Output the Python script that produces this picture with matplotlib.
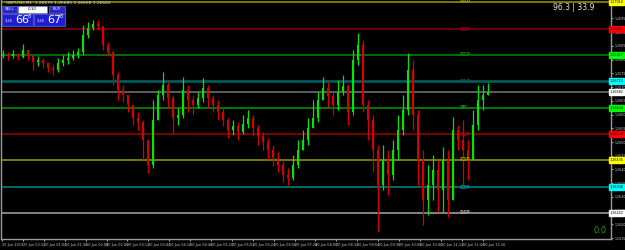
import numpy as np
import matplotlib
matplotlib.use("Agg")
import matplotlib.pyplot as plt
from matplotlib.patches import Rectangle
import matplotlib.transforms as mtransforms

# GBPUSD candles
closes = [1.26817, 1.26813, 1.26820, 1.26810, 1.26835, 1.26813, 1.26791, 1.26799, 1.26788, 1.26769,
          1.26762, 1.26788, 1.26799, 1.26806, 1.26817, 1.26828, 1.26890, 1.26915, 1.26930, 1.26922,
          1.26853, 1.26828, 1.26744, 1.26689, 1.26671, 1.26635, 1.26588, 1.26573, 1.26507, 1.26416,
          1.26580, 1.26671, 1.26708, 1.26660, 1.26588, 1.26598, 1.26689, 1.26653, 1.26635, 1.26660,
          1.26697, 1.26660, 1.26635, 1.26609, 1.26580, 1.26544, 1.26558, 1.26537, 1.26566, 1.26588,
          1.26551, 1.26522, 1.26500, 1.26471, 1.26442, 1.26416, 1.26380, 1.26369, 1.26416, 1.26471,
          1.26507, 1.26551, 1.26588, 1.26653, 1.26697, 1.26668, 1.26635, 1.26682, 1.26704, 1.26609,
          1.26799, 1.26853, 1.26635, 1.26580, 1.26471, 1.26344, 1.26435, 1.26380, 1.26471, 1.26544,
          1.26617, 1.26762, 1.26598, 1.26435, 1.26289, 1.26344, 1.26398, 1.26325, 1.26435, 1.26289,
          1.26544, 1.26507, 1.26471, 1.26435, 1.26562, 1.26653, 1.26671, 1.26682]
highs = [1.26835, 1.26828, 1.26835, 1.26824, 1.26857, 1.26835, 1.26817, 1.26813, 1.26806, 1.26791,
         1.26784, 1.26806, 1.26817, 1.26828, 1.26835, 1.26842, 1.26926, 1.26937, 1.26944, 1.26944,
         1.26922, 1.26864, 1.26835, 1.26755, 1.26708, 1.26671, 1.26635, 1.26609, 1.26580, 1.26507,
         1.26653, 1.26689, 1.26755, 1.26719, 1.26671, 1.26624, 1.26737, 1.26708, 1.26671, 1.26682,
         1.26733, 1.26708, 1.26671, 1.26653, 1.26624, 1.26588, 1.26580, 1.26573, 1.26598, 1.26617,
         1.26598, 1.26562, 1.26537, 1.26515, 1.26489, 1.26464, 1.26435, 1.26405, 1.26453, 1.26507,
         1.26544, 1.26588, 1.26653, 1.26682, 1.26737, 1.26719, 1.26682, 1.26726, 1.26744, 1.26711,
         1.26835, 1.26897, 1.26871, 1.26653, 1.26598, 1.26489, 1.26489, 1.26471, 1.26507, 1.26598,
         1.26671, 1.26824, 1.26799, 1.26617, 1.26471, 1.26416, 1.26453, 1.26435, 1.26482, 1.26471,
         1.26591, 1.26562, 1.26580, 1.26507, 1.26617, 1.26708, 1.26708, 1.26715]
lows = [1.26806, 1.26799, 1.26806, 1.26799, 1.26806, 1.26799, 1.26762, 1.26777, 1.26769, 1.26755,
        1.26744, 1.26755, 1.26777, 1.26784, 1.26799, 1.26806, 1.26817, 1.26879, 1.26908, 1.26908,
        1.26835, 1.26813, 1.26708, 1.26653, 1.26646, 1.26609, 1.26562, 1.26544, 1.26435, 1.26387,
        1.26405, 1.26580, 1.26653, 1.26624, 1.26533, 1.26562, 1.26588, 1.26609, 1.26598, 1.26624,
        1.26646, 1.26624, 1.26609, 1.26580, 1.26558, 1.26515, 1.26526, 1.26507, 1.26529, 1.26551,
        1.26522, 1.26489, 1.26471, 1.26435, 1.26413, 1.26391, 1.26355, 1.26344, 1.26362, 1.26405,
        1.26471, 1.26489, 1.26551, 1.26573, 1.26653, 1.26624, 1.26598, 1.26617, 1.26671, 1.26562,
        1.26598, 1.26780, 1.26609, 1.26507, 1.26391, 1.26172, 1.26325, 1.26307, 1.26362, 1.26435,
        1.26526, 1.26598, 1.26544, 1.26344, 1.26198, 1.26234, 1.26289, 1.26245, 1.26242, 1.26227,
        1.26289, 1.26471, 1.26336, 1.26362, 1.26435, 1.26544, 1.26617, 1.26671]
first_open = 1.26813

# pivot style levels drawn across the chart
level_prices = [1.27010, 1.26911, 1.26817, 1.26722, 1.26624, 1.26529, 1.26435, 1.26336, 1.26242]
level_names = ["R4P", "R3P", "R2P", "R1P", "PP", "S1P", "S2P", "S3P", "S4P"]
level_colors = ["#9a9a00", "#8c0000", "#008c00", "#005a5a", "#009a00", "#9c0000", "#9a9a00", "#008888", "#a8a8a8"]
box_colors = ["#ffff00", "#ff0000", "#00ff00", "#00ffff", "#00ff00", "#ff0000", "#ffff00", "#00ffff", "#ffffff"]
bid = 1.26682

price_ticks = [1.2615, 1.2620, 1.2625, 1.2630, 1.2635, 1.2640, 1.2645, 1.2650, 1.2655,
               1.2660, 1.2665, 1.2670, 1.2675, 1.2680, 1.2685, 1.2690, 1.2695, 1.2700]
time_labels = ["20 Jun 2019", "20 Jun 00:32", "20 Jun 01:04", "20 Jun 01:36", "20 Jun 02:08",
               "20 Jun 02:40", "20 Jun 03:12", "20 Jun 03:44", "20 Jun 04:16", "20 Jun 04:48",
               "20 Jun 05:20", "20 Jun 05:52", "20 Jun 06:24", "20 Jun 06:56", "20 Jun 07:28",
               "20 Jun 08:00", "20 Jun 08:32", "20 Jun 09:04", "20 Jun 09:36", "20 Jun 10:08",
               "20 Jun 10:40", "20 Jun 11:12", "20 Jun 11:44", "20 Jun 12:16"]

W, H = 625, 250
fig = plt.figure(figsize=(W / 100, H / 100), dpi=100, facecolor="black")
ax = fig.add_axes([1 / W, 11 / H, 610 / W, 239 / H], facecolor="black")

opens = [first_open] + closes[:-1]
idx = np.arange(len(closes))
up = np.array(closes) >= np.array(opens)
cols = np.where(up, "#00e600", "#d80000")

for lvl, c in zip(level_prices, level_colors):
    ax.axhline(lvl, color=c, lw=2 if c == "#005a5a" else 1.1, zorder=1)
ax.axhline(bid, color="#777777", lw=1.1, zorder=1)

ax.vlines(idx, lows, highs, colors=cols, lw=0.9, zorder=3)
ax.bar(idx, np.array(closes) - np.array(opens), bottom=opens, width=0.55, color=cols, zorder=3)

ax.set_xlim(-0.4, 121.6)
ax.set_ylim(1.26147, 1.27017)

# labels on the level lines
tr = mtransforms.blended_transform_factory(ax.transAxes, ax.transData)
for lvl, name, c in zip(level_prices, level_names, level_colors):
    ax.text(0.752, lvl, name, transform=tr, color=c, fontsize=3.6, va="center", ha="left",
            fontweight="bold", zorder=4)

# right price axis
ax.yaxis.tick_right()
ax.set_yticks(price_ticks)
ax.set_yticklabels(["%.4f" % p for p in price_ticks])
ax.tick_params(axis="y", colors="#c8c8c8", labelsize=2.3, length=1.5, width=0.6, pad=0.8)

# time axis
step = 20.9 / 5
ax.set_xticks([(-1) / 5 + step * k for k in range(len(time_labels))])
ax.set_xticklabels(time_labels, ha="left")
ax.tick_params(axis="x", colors="#c8c8c8", labelsize=2.5, length=1.5, width=0.6, pad=1.5)

for s in ["left", "right", "bottom"]:
    ax.spines[s].set_color("#9a9a9a")
    ax.spines[s].set_linewidth(1)
ax.spines["top"].set_visible(False)

# coloured price boxes on the axis
tr2 = mtransforms.blended_transform_factory(fig.transFigure, ax.transData)
for lvl, bc in list(zip(level_prices, box_colors)) + [(bid, "#ffffff")]:
    ax.text(623.5 / W, lvl, "%.5f" % lvl, transform=tr2, fontsize=2.4, color="black", va="center",
            ha="right", clip_on=False, zorder=6,
            bbox=dict(boxstyle="square,pad=0.2", fc=bc, ec=bc))


def fx(x):
    return x / W


def fy(y):
    return 1 - y / H


# title line and one-click trading panel
fig.text(fx(6), fy(3.5), "GBPUSD,M1  1.26675 1.26685 1.26668 1.26682", color="#dddddd",
         fontsize=3.2, va="center", ha="left")
panel = [(2, 6, 15, 7, "#2828c8", "SELL"), (18, 6, 29, 7, "#ffffff", "0.10"),
         (49, 6, 16, 7, "#2828c8", "BUY"), (2, 14, 31, 12, "#1e1ed6", ""), (34, 14, 31, 12, "#1e1ed6", "")]
for x0, y0, w, h, c, t in panel:
    fig.patches.append(Rectangle((fx(x0), fy(y0 + h)), w / W, h / H, transform=fig.transFigure,
                                 fc=c, ec="#8080ff", lw=0.4))
    if t:
        fig.text(fx(x0 + w / 2), fy(y0 + h / 2), t, color="black" if c == "#ffffff" else "white",
                 fontsize=3, ha="center", va="center")
for x0, big, sup in [(2, "66", "8"), (34, "67", "8")]:
    fig.text(fx(x0 + 3), fy(21), "1.26", color="white", fontsize=2.6, ha="left", va="center")
    fig.text(fx(x0 + 13), fy(20), big, color="white", fontsize=8, ha="left", va="center")
    fig.text(fx(x0 + 26), fy(16.5), sup, color="white", fontsize=3.5, ha="left", va="center")

fig.text(fx(553), fy(7.5), "96.3 | 33.9", color="#e8e8e8", fontsize=5.5, ha="left", va="center")
fig.text(fx(594), fy(230.5), "0.0", color="#1ea01e", fontsize=6, ha="left", va="center")

fig.savefig("out.png", dpi=100, facecolor="black")
